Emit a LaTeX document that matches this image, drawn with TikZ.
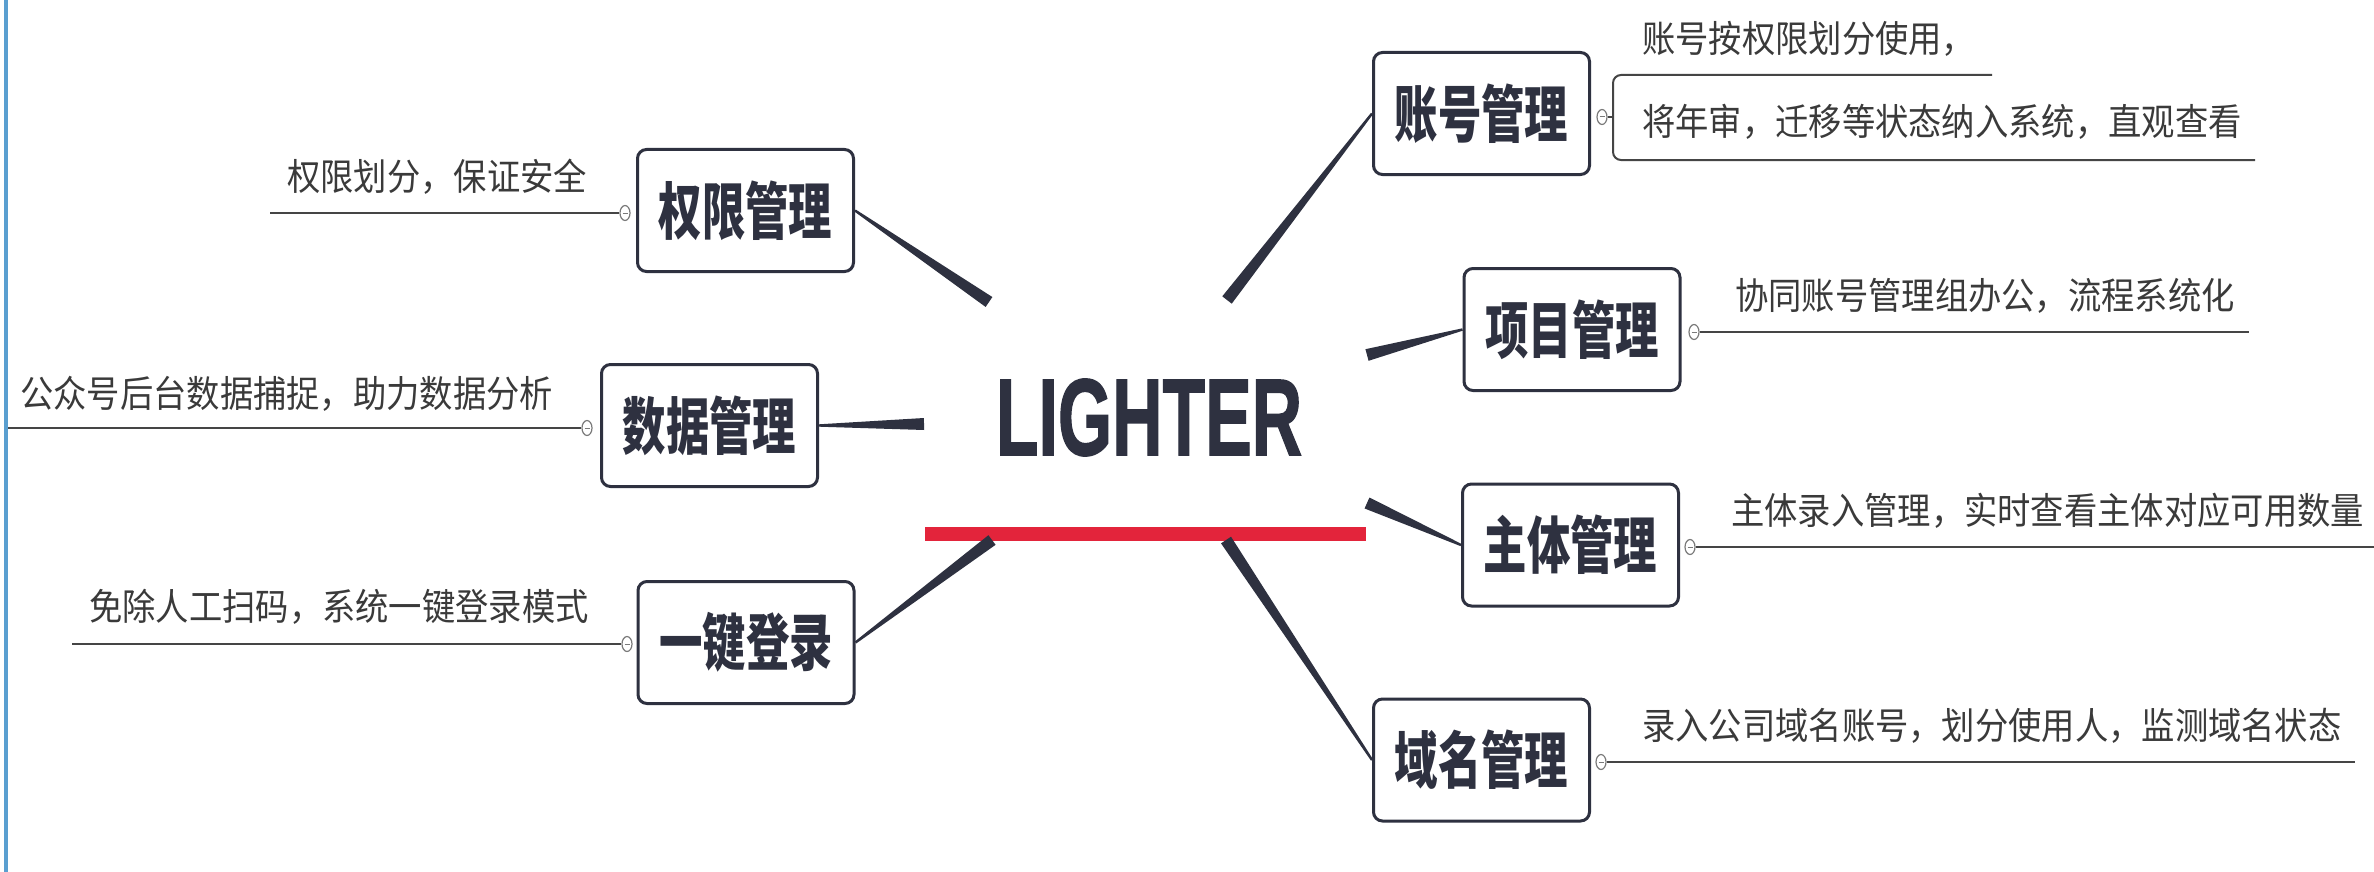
\documentclass[tikz,border=0pt]{standalone}
\usepackage{fontspec}
\newfontfamily\cjk{Noto Sans CJK SC}
\newfontfamily\titlefont{Liberation Sans}[FakeBold=1.5]
\usetikzlibrary{calc,shapes.geometric}
\definecolor{boxcol}{HTML}{2E3140}
\definecolor{desccol}{HTML}{3A3A3A}
\definecolor{knobcol}{HTML}{7A7A7A}
\definecolor{ulcol}{HTML}{454545}
\definecolor{barred}{HTML}{E3243B}
\definecolor{edgeblue}{HTML}{5A9FD0}
\newcommand\boxlabel[1]{\scalebox{0.7}[1]{\cjk\bfseries\fontsize{62}{62}\selectfont #1}}
\newcommand\dtext[1]{\scalebox{0.9}[1]{\cjk\fontsize{37}{37}\selectfont #1}}
\newcommand\taper[2]{\fill[boxcol] ($(#1)!1.2pt!90:(#2)$) -- ($(#1)!1.2pt!-90:(#2)$) -- ($(#2)!6pt!90:(#1)$) -- ($(#2)!6pt!-90:(#1)$) -- cycle;}
\tikzset{
  topic/.style={draw=boxcol, line width=3pt, rounded corners=9pt, fill=white,
    minimum width=216pt, minimum height=122pt, inner sep=0pt, text=boxcol},
  desc/.style={inner sep=0pt, anchor=south west, text=desccol},
  knob/.style={draw=knobcol, line width=1.2pt, fill=white, ellipse,
    minimum width=10pt, minimum height=15pt, inner sep=0pt,
    path picture={\draw[knobcol, line width=1pt]
      ([xshift=-2.5pt]path picture bounding box.center) -- ([xshift=2.5pt]path picture bounding box.center);}},
  uline/.style={draw=ulcol, line width=2.2pt},
}
\begin{document}
\begin{tikzpicture}[x=1pt,y=-1pt]
\useasboundingbox (0,0) rectangle (2374,872);
\fill[white] (0,0) rectangle (2374,872);
\draw[edgeblue, line width=4pt] (6,0) -- (6,872);

% central topic
\node[minimum width=442pt, minimum height=240pt, inner sep=0pt] (center) at (1145,422) {};
\node[anchor=base, inner sep=0pt, text=boxcol] (title) at (1149,455)
  {\scalebox{0.64}[1]{\titlefont\bfseries\fontsize{109}{109}\selectfont LIGHTER}};
\fill[barred] (925,527) rectangle (1366,541);
\coordinate (c-tl) at (989,302);
\coordinate (c-tr) at (1227,300);
\coordinate (c-l)  at (924,424);
\coordinate (c-ru) at (1367,355);
\coordinate (c-rl) at (1367,503);
\coordinate (c-bl) at (992,540);
\coordinate (c-br) at (1226,540);

% topics
\node[topic] (qx) at (745.5,210.5) {\boxlabel{权限管理}};
\node[topic] (sj) at (709.5,425.5) {\boxlabel{数据管理}};
\node[topic] (yj) at (746,642.5) {\boxlabel{一键登录}};
\node[topic] (zh) at (1481.5,113.5) {\boxlabel{账号管理}};
\node[topic] (xm) at (1572,329.5) {\boxlabel{项目管理}};
\node[topic] (zt) at (1570.5,545) {\boxlabel{主体管理}};
\node[topic] (ym) at (1481.5,760) {\boxlabel{域名管理}};

% tapered connectors
\taper{qx.east}{c-tl}
\taper{sj.east}{c-l}
\taper{yj.east}{c-bl}
\taper{zh.west}{c-tr}
\taper{xm.west}{c-ru}
\taper{zt.west}{c-rl}
\taper{ym.west}{c-br}

% left descriptions
\coordinate (qx-end) at (270,213);
\node[knob] (qx-k) at (625,213) {};
\draw[uline] (qx-k.west) -- (qx-end);
\node[desc] (qx-d) at (287,195) {\dtext{权限划分，保证安全}};

\coordinate (sj-end) at (8,428);
\node[knob] (sj-k) at (587,428) {};
\draw[uline] (sj-k.west) -- (sj-end);
\node[desc] (sj-d) at (20,412) {\dtext{公众号后台数据捕捉，助力数据分析}};

\coordinate (yj-end) at (72,644);
\node[knob] (yj-k) at (627,644) {};
\draw[uline] (yj-k.west) -- (yj-end);
\node[desc] (yj-d) at (89,625) {\dtext{免除人工扫码，系统一键登录模式}};

% right descriptions
\node[knob] (zh-k) at (1602,117) {};
\coordinate (zh-b) at (1613,117);
\coordinate (zh-t) at (1992,75);
\coordinate (zh-u) at (2255,160);
\draw[uline, line width=2pt] (zh-k.east) -- (zh-b);
\draw[uline, line width=2pt, rounded corners=8pt] (zh-t) -| (zh-b) |- (zh-u);
\node[desc] (zh-d1) at (1642,57) {\dtext{账号按权限划分使用，}};
\node[desc] (zh-d2) at (1642,140) {\dtext{将年审，迁移等状态纳入系统，直观查看}};

\node[knob] (xm-k) at (1694,332) {};
\coordinate (xm-end) at (2249,332);
\draw[uline] (xm-k.east) -- (xm-end);
\node[desc] (xm-d) at (1735,314) {\dtext{协同账号管理组办公，流程系统化}};

\node[knob] (zt-k) at (1690,547) {};
\coordinate (zt-end) at (2374,547);
\draw[uline] (zt-k.east) -- (zt-end);
\node[desc] (zt-d) at (1731,529) {\dtext{主体录入管理，实时查看主体对应可用数量}};

\node[knob] (ym-k) at (1601,762) {};
\coordinate (ym-end) at (2355,762);
\draw[uline] (ym-k.east) -- (ym-end);
\node[desc] (ym-d) at (1642,744) {\dtext{录入公司域名账号，划分使用人，监测域名状态}};
\end{tikzpicture}
\end{document}
